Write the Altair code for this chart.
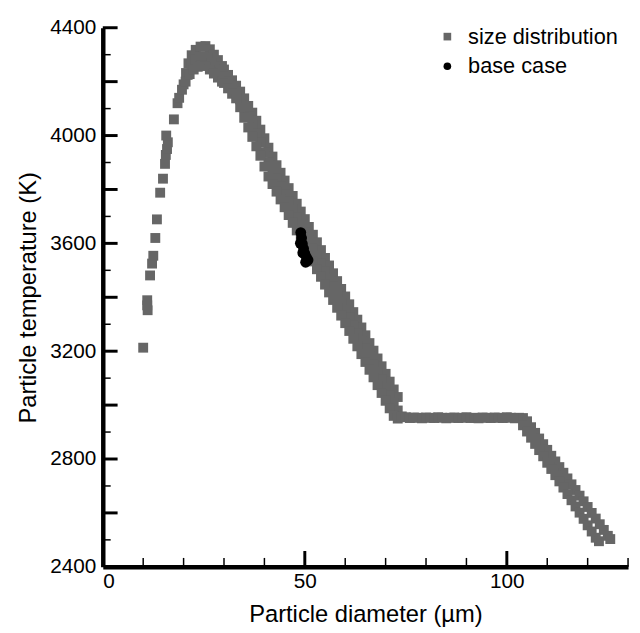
import altair as alt
import pandas as pd

FONT = "Liberation Sans"

# ---------------- data ----------------
# isolated squares on the rising branch (diameter um, temperature K)
rise_d = [10.0, 11.0, 11.0, 11.1, 11.7, 12.2, 12.5, 13.0, 13.4, 14.2, 14.9, 15.4, 15.6, 15.9, 16.1, 15.7, 17.6, 18.5, 18.9]
rise_T = [3213, 3389, 3370, 3352, 3481, 3525, 3554, 3620, 3689, 3788, 3840, 3895, 3928, 3950, 3975, 4000, 4060, 4120, 4140]

# peak region
peak_hi_d = [20.0, 20.6, 21.2, 22.0, 23.0, 24.2, 25.4, 26.5, 27.5, 28.5, 29.5]
peak_hi_T = [4190, 4232, 4268, 4298, 4318, 4330, 4332, 4320, 4300, 4280, 4258]
peak_mid_d = [21.0, 22.0, 23.0, 24.0, 25.0, 26.0, 27.0, 28.0, 29.0]
peak_mid_T = [4225, 4262, 4282, 4292, 4295, 4288, 4272, 4255, 4235]
peak_lo_d = [19.6, 20.5, 21.5, 22.5, 23.5, 24.5, 25.5, 26.5, 27.5, 28.5, 29.5]
peak_lo_T = [4170, 4200, 4228, 4245, 4255, 4260, 4258, 4245, 4230, 4215, 4200]

# steep descending branch: upper, middle and lower edge of the band
steep_d = [30, 31, 32, 33, 34, 35, 36, 37, 38, 39, 40, 41, 42, 43, 44, 45, 46, 47, 48, 49, 50,
           51, 52, 53, 54, 55, 56, 57, 58, 59, 60, 61, 62, 63, 64, 65, 66, 67, 68, 69, 70,
           71, 72, 73]
steep_hi = [4245, 4225, 4205, 4185, 4163, 4138, 4110, 4085, 4055, 4022, 3990, 3955, 3922, 3890, 3862,
            3833, 3805, 3776, 3747, 3718, 3690, 3661, 3632, 3604, 3575, 3546, 3518, 3489, 3460,
            3431, 3403, 3374, 3345, 3317, 3288, 3259, 3230, 3202, 3173, 3144, 3116, 3087, 3058, 3030]
steep_mid = [4220, 4200, 4180, 4160, 4134, 4102, 4070, 4040, 4008, 3974, 3938, 3902, 3870, 3841, 3812,
             3783, 3755, 3726, 3697, 3668, 3640, 3611, 3582, 3554, 3525, 3496, 3468, 3439, 3410,
             3382, 3353, 3324, 3296, 3267, 3238, 3209, 3181, 3152, 3123, 3095, 3066, 3037, 3008, 2980]
steep_lo = [4195, 4175, 4155, 4138, 4105, 4066, 4030, 3995, 3960, 3925, 3885, 3848, 3820, 3792, 3763,
            3734, 3705, 3676, 3648, 3620, 3590, 3562, 3533, 3504, 3476, 3447, 3418, 3390, 3361,
            3332, 3304, 3275, 3246, 3218, 3189, 3160, 3131, 3103, 3074, 3045, 3016, 2988, 2960, 2950]

# plateau
flat_d = [74, 75, 76, 77, 78, 79, 80, 81, 82, 83, 84, 85, 86, 87, 88, 89, 90, 91, 92, 93, 94,
          95, 96, 97, 98, 99, 100, 101, 102, 103, 104]
flat_T = [2958, 2955, 2952, 2954, 2953, 2951, 2954, 2953, 2952, 2955, 2953, 2951, 2953, 2954, 2952,
          2953, 2955, 2952, 2953, 2951, 2954, 2953, 2952, 2954, 2953, 2952, 2955, 2953, 2951, 2953, 2952]

# last descending branch
tail_hi_d = [105, 106, 107, 108, 109, 110, 111, 112, 113, 114, 115, 116, 117, 118, 119, 120, 121, 122, 123, 124, 125, 125.6]
tail_hi_T = [2940, 2918, 2897, 2876, 2855, 2834, 2812, 2791, 2770, 2749, 2728, 2706, 2685, 2664, 2643,
             2622, 2600, 2579, 2558, 2537, 2515, 2503]
tail_lo_d = [104, 105, 106, 107, 108, 109, 110, 111, 112, 113, 114, 115, 116, 117, 118, 119, 120, 121, 122, 122.8]
tail_lo_T = [2925, 2902, 2879, 2856, 2833, 2810, 2786, 2763, 2740, 2717, 2694, 2670, 2647, 2624, 2601,
             2578, 2554, 2531, 2508, 2495]

# base case (black dots)
base_d = [49.0, 49.2, 48.9, 49.4, 49.7, 49.5, 50.0, 50.4, 50.8, 50.2]
base_T = [3640, 3620, 3600, 3598, 3580, 3565, 3562, 3548, 3538, 3530]

series_names = ["size distribution", "base case"]

# axis tick positions
y_label_vals = [2400, 2800, 3200, 3600, 4000, 4400]
y_major = [2600, 2800, 3000, 3200, 3400, 3600, 3800, 4000, 4200, 4400]
y_minor = [2500, 2700, 2900, 3100, 3300, 3500, 3700, 3900, 4100, 4300]
x_label_vals = [0, 50, 100]
x_major = [50, 100]
x_minor = [10, 20, 30, 40, 60, 70, 80, 90, 110, 120, 130]

# ---------------- tables ----------------
rows = []
def add(ds, ts, name):
    for d, t in zip(ds, ts):
        rows.append({"d": d, "T": t, "series": name})

add(rise_d, rise_T, series_names[0])
add(peak_hi_d, peak_hi_T, series_names[0])
add(peak_mid_d, peak_mid_T, series_names[0])
add(peak_lo_d, peak_lo_T, series_names[0])
add(steep_d, steep_hi, series_names[0])
add(steep_d, steep_mid, series_names[0])
add(steep_d, steep_lo, series_names[0])
add(flat_d, flat_T, series_names[0])
add(tail_hi_d, tail_hi_T, series_names[0])
add(tail_lo_d, tail_lo_T, series_names[0])
sd_df = pd.DataFrame(rows)
rows = []
add(base_d, base_T, series_names[1])
bc_df = pd.DataFrame(rows)

W, H = 532, 546
x_scale = alt.Scale(domain=[0, 130], nice=False, zero=False)
y_scale = alt.Scale(domain=[2400, 4400], nice=False, zero=False)

legend = alt.Legend(
    orient="none", legendX=338, legendY=-2, title=None,
    labelFont=FONT, labelFontSize=22, labelColor="black", labelOffset=10, labelLimit=400,
    symbolSize=60, symbolStrokeWidth=0, rowPadding=8, padding=0,
)
color = alt.Color("series:N", scale=alt.Scale(domain=series_names, range=["#666666", "#000000"]), legend=legend)
shape = alt.Shape("series:N", scale=alt.Scale(domain=series_names, range=["square", "circle"]), legend=legend)

x_axis = alt.Axis(
    values=x_label_vals, ticks=False, tickSize=0, grid=False, format="d",
    domainColor="black", domainWidth=4.5,
    labelFont=FONT, labelFontSize=21, labelColor="black", labelPadding=4,
    title="Particle diameter (µm)", titleFont=FONT, titleFontSize=24,
    titleFontWeight="normal", titleColor="black", titlePadding=11,
)
y_axis = alt.Axis(
    values=y_label_vals, ticks=False, tickSize=0, grid=False, format="d",
    domainColor="black", domainWidth=4.5,
    labelFont=FONT, labelFontSize=21, labelColor="black", labelPadding=7,
    title="Particle temperature (K)", titleFont=FONT, titleFontSize=24,
    titleFontWeight="normal", titleColor="black", titlePadding=9,
)

X = alt.X("d:Q", scale=x_scale, axis=x_axis)
Y = alt.Y("T:Q", scale=y_scale, axis=y_axis)

sd_layer = alt.Chart(sd_df).mark_point(filled=True, size=100, opacity=1, strokeWidth=0).encode(
    x=X, y=Y, color=color, shape=shape,
)
bc_layer = alt.Chart(bc_df).mark_point(filled=True, size=120, opacity=1, strokeWidth=0).encode(
    x=X, y=Y, color=color, shape=shape,
)

ymaj = alt.Chart(pd.DataFrame({"T": y_major})).mark_rule(color="black", strokeWidth=3).encode(
    y=Y, x=alt.value(0), x2=alt.value(15))
ymin = alt.Chart(pd.DataFrame({"T": y_minor})).mark_rule(color="black", strokeWidth=1.5).encode(
    y=Y, x=alt.value(0), x2=alt.value(8))
xmaj = alt.Chart(pd.DataFrame({"d": x_major})).mark_rule(color="black", strokeWidth=3).encode(
    x=X, y=alt.value(H), y2=alt.value(H - 16))
xmin = alt.Chart(pd.DataFrame({"d": x_minor})).mark_rule(color="black", strokeWidth=1.5).encode(
    x=X, y=alt.value(H), y2=alt.value(H - 9))

chart = alt.layer(sd_layer, bc_layer, ymaj, ymin, xmaj, xmin).properties(
    width=W, height=H,
    autosize=alt.AutoSizeParams(type="none"),
    padding={"left": 96, "top": 16, "right": 4, "bottom": 60},
    background="white",
).configure_view(stroke=None)

chart.save("out.html", embed_options={"renderer": "svg", "actions": False})
